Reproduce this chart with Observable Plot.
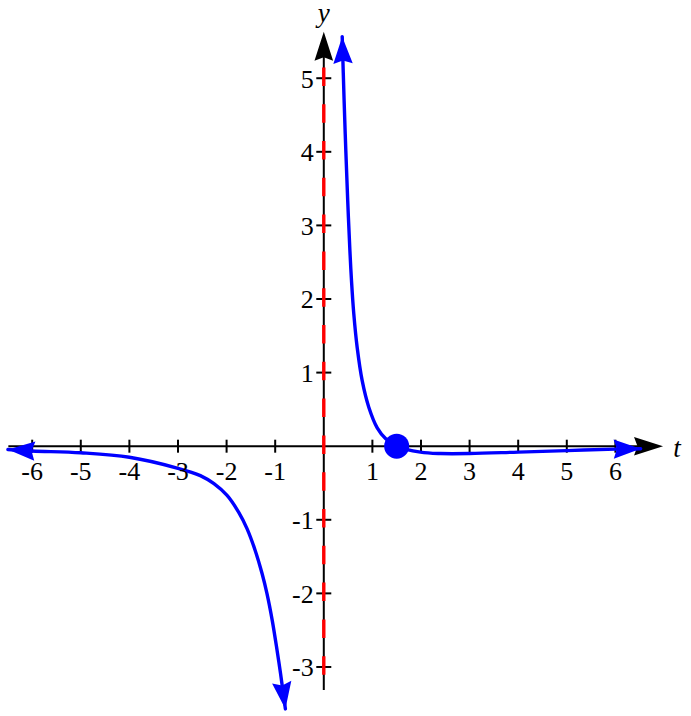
<!DOCTYPE html>
<html>
<head>
<meta charset="utf-8">
<script src="https://cdn.jsdelivr.net/npm/d3@7"></script>
<script src="https://cdn.jsdelivr.net/npm/@observablehq/plot@0.6"></script>
<style>
  html, body { margin: 0; padding: 0; background: #fff; }
  #chart svg { display: block; }
  #chart svg text { font-family: 'Liberation Serif', 'Times New Roman', serif; }
</style>
</head>
<body>
<div id="chart"></div>
<script>
// ---- data ----
const leftT = [-6.5, -6, -5, -4, -3, -2.54, -2.26, -1.99, -1.75, -1.58, -1.41, -1.27, -1.17, -1.06, -0.96, -0.89, -0.79];
const leftY = [-0.045, -0.065, -0.09, -0.15, -0.30, -0.40, -0.51, -0.67, -0.90, -1.12, -1.42, -1.73, -2.0, -2.37, -2.78, -3.09, -3.57];
const rightT = [0.379, 0.418, 0.453, 0.492, 0.537, 0.570, 0.617, 0.687, 0.790, 0.926, 1.099, 1.27, 1.5, 1.99, 2.4, 3, 4, 5, 6, 6.52];
const rightY = [5.565, 4.70, 4.02, 3.34, 2.66, 2.25, 1.80, 1.34, 0.89, 0.53, 0.25, 0.105, 0, -0.08, -0.10, -0.10, -0.08, -0.06, -0.04, -0.035];
const zeroT = [1.5];
const zeroY = [0];
const xTicks = [-6, -5, -4, -3, -2, -1, 1, 2, 3, 4, 5, 6];
const yTicks = [-3, -2, -1, 1, 2, 3, 4, 5];
const xAxisExtent = [-6.48, 6.98];
const yAxisExtent = [-3.32, 5.63];
const asymptoteT = [0];
const asymptoteExtent = [5.14, -3.28];
const xName = "t";
const yName = "y";

// ---- layout ----
const W = 691, H = 716;
const xDomain = [-6.652, 7.566];
const yDomain = [-3.673, 6.056];
const kx = W / (xDomain[1] - xDomain[0]);
const ky = H / (yDomain[1] - yDomain[0]);

const toRows = (ts, ys) => ts.map((t, i) => ({t, y: ys[i]}));
const left = toRows(leftT, leftY);
const right = toRows(rightT, rightY);

function heading(t0, y0, t1, y1) {
  return Math.atan2((t1 - t0) * kx, (y1 - y0) * ky) * 180 / Math.PI;
}
function tipOf(ts, ys, atEnd) {
  const n = ts.length;
  const i = atEnd ? n - 1 : 0, j = atEnd ? n - 2 : 1;
  return {t: ts[i], y: ys[i], rotate: heading(ts[j], ys[j], ts[i], ys[i])};
}
const blueTips = [
  tipOf(leftT, leftY, false), tipOf(leftT, leftY, true),
  tipOf(rightT, rightY, false), tipOf(rightT, rightY, true)
];
const blackTips = [
  {t: xAxisExtent[1], y: 0, rotate: 90},
  {t: 0, y: yAxisExtent[1], rotate: 0}
];

const arrowShape = {
  draw(context, l, r) {
    context.moveTo(0, -l);
    context.lineTo(r, 0);
    context.lineTo(0, -l * 0.12);
    context.lineTo(-r, 0);
    context.closePath();
  }
};
const vTick = {draw(ctx, size) { const h = Math.sqrt(size / Math.PI); ctx.moveTo(0, -h); ctx.lineTo(0, h); }};
const hTick = {draw(ctx, size) { const h = Math.sqrt(size / Math.PI); ctx.moveTo(-h, 0); ctx.lineTo(h, 0); }};

const serif = "Liberation Serif";

const chart = Plot.plot({
  width: W,
  height: H,
  margin: 0,
  x: {domain: xDomain, range: [0, W], axis: null},
  y: {domain: yDomain, range: [H, 0], axis: null},
  style: {background: "#fff", color: "black", overflow: "visible"},
  marks: [
    // axes
    Plot.ruleY([0], {x1: xAxisExtent[0], x2: xAxisExtent[1] - 8 / kx, stroke: "black", strokeWidth: 2}),
    Plot.ruleX([0], {y1: yAxisExtent[0], y2: yAxisExtent[1] - 8 / ky, stroke: "black", strokeWidth: 2}),
    Plot.dot(xTicks, {x: d => d, y: 0, symbol: vTick, r: 6.5, stroke: "black", strokeWidth: 2, fill: "none"}),
    Plot.dot(yTicks, {x: 0, y: d => d, symbol: hTick, r: 7.5, stroke: "black", strokeWidth: 2, fill: "none"}),
    Plot.vector(blackTips, {x: "t", y: "y", rotate: "rotate", length: 29, r: 9.3, anchor: "end", shape: arrowShape, fill: "black", stroke: "none"}),
    // asymptote
    Plot.ruleX(asymptoteT, {x: d => d, y1: asymptoteExtent[0], y2: asymptoteExtent[1], stroke: "#ff0000", strokeWidth: 3.4, strokeDasharray: "18.5,18.3"}),
    // curve
    Plot.line(left, {x: "t", y: "y", stroke: "#0000ff", strokeWidth: 3.4, curve: "catmull-rom"}),
    Plot.line(right, {x: "t", y: "y", stroke: "#0000ff", strokeWidth: 3.4, curve: "catmull-rom"}),
    Plot.vector(blueTips, {x: "t", y: "y", rotate: "rotate", length: 27, r: 9.7, anchor: "end", shape: arrowShape, fill: "#0000ff", stroke: "none"}),
    Plot.dot(toRows(zeroT, zeroY), {x: "t", y: "y", r: 12.5, fill: "#0000ff", stroke: "none"}),
    // tick labels
    Plot.text(xTicks, {x: d => d, y: 0, dy: 25, text: d => String(d), fontSize: 26, fontFamily: serif}),
    Plot.text(yTicks, {x: 0, y: d => d, dx: -10, dy: 1, text: d => String(d), textAnchor: "end", fontSize: 26, fontFamily: serif}),
    // axis names
    Plot.text([xName], {x: xAxisExtent[1], y: 0, dx: 14, dy: 2, text: d => d, fontStyle: "italic", fontSize: 27, fontFamily: serif}),
    Plot.text([yName], {x: 0, y: yAxisExtent[1], dy: -18, text: d => d, fontStyle: "italic", fontSize: 27, fontFamily: serif})
  ]
});
document.getElementById("chart").appendChild(chart);
</script>
</body>
</html>
